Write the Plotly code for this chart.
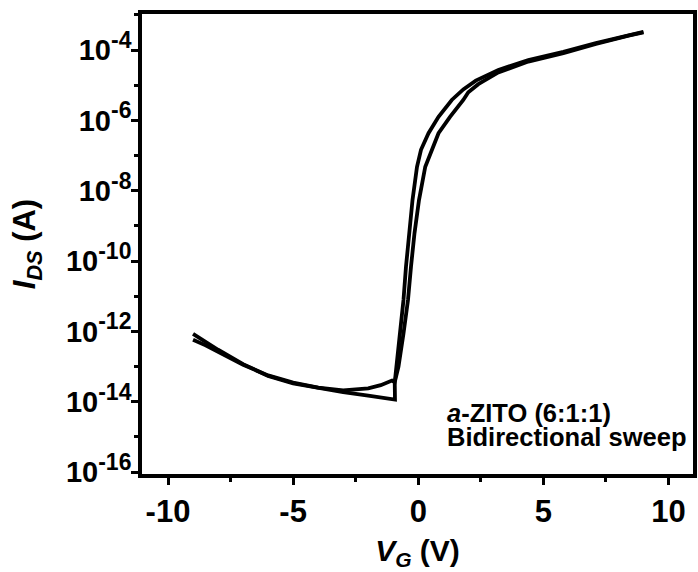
import plotly.graph_objects as go

# Transfer curve of a-ZITO (6:1:1) TFT, bidirectional gate sweep
vg_fwd = [-9.0, -8.5, -8.0, -7.0, -6.0, -5.0, -4.0, -3.0, -2.0, -1.0, -0.93, -0.94,
          -0.87, -0.71, -0.59, -0.49, -0.37, -0.23, -0.05, 0.11, 0.41, 0.81, 1.34,
          1.8, 2.3, 3.2, 4.4, 5.8, 7.1, 8.4, 9.0]
ids_fwd = [8.5e-13, 5.0e-13, 3.0e-13, 1.17e-13, 5.4e-14, 3.3e-14, 2.4e-14, 1.86e-14,
           1.48e-14, 1.2e-14, 1.15e-14, 3.5e-14, 1.0e-13, 8.7e-13, 7.8e-12, 6.9e-11,
           6.2e-10, 5.4e-9, 4.8e-8, 1.45e-7, 4.3e-7, 1.26e-6, 3.8e-6, 7.6e-6, 1.35e-5,
           2.7e-5, 5.2e-5, 8.9e-5, 1.58e-4, 2.7e-4, 3.3e-4]

vg_rev = [9.0, 8.4, 7.1, 5.8, 4.4, 3.2, 2.4, 2.0, 1.80, 1.27, 0.81, 0.54, 0.28, 0.03,
          -0.15, -0.29, -0.41, -0.59, -0.79, -0.94, -1.05, -1.5, -2.0, -3.0, -4.0,
          -5.0, -6.0, -7.0, -8.0, -8.5, -9.0]
ids_rev = [3.16e-4, 2.57e-4, 1.48e-4, 8.1e-5, 4.7e-5, 2.3e-5, 1.07e-5, 6.3e-6, 3.8e-6,
           1.26e-6, 4.3e-7, 1.45e-7, 4.8e-8, 5.4e-9, 6.2e-10, 6.9e-11, 7.8e-12, 8.7e-13,
           1.0e-13, 3.6e-14, 4.0e-14, 2.95e-14, 2.4e-14, 2.1e-14, 2.5e-14, 3.5e-14,
           5.6e-14, 1.12e-13, 2.7e-13, 4.0e-13, 5.8e-13]

y_tickvals = [1e-16, 1e-14, 1e-12, 1e-10, 1e-8, 1e-6, 1e-4]
y_exponents = ["-16", "-14", "-12", "-10", "-8", "-6", "-4"]
y_minor = [1e-15, 1e-13, 1e-11, 1e-9, 1e-7, 1e-5, 1e-3]
x_tickvals = [-10, -5, 0, 5, 10]
x_ticktext = ["-10", "-5", "0", "5", "10"]
x_minor = [-7.5, -2.5, 2.5, 7.5]

FONT = "Liberation Sans, Arial, sans-serif"
y_ticktext = ["10<sup><span style='font-size:23px'>%s</span></sup>" % e
              for e in y_exponents]

fig = go.Figure()
for xs, ys in ((vg_fwd, ids_fwd), (vg_rev, ids_rev)):
    fig.add_trace(go.Scatter(x=xs, y=ys, mode="lines",
                             line=dict(color="black", width=3.8),
                             showlegend=False, hoverinfo="skip"))

fig.update_layout(
    width=698, height=572,
    margin=dict(l=142, r=1, t=14, b=98),
    paper_bgcolor="white", plot_bgcolor="white",
    font=dict(family=FONT, color="black", size=29, weight="bold"),
)

fig.update_xaxes(
    range=[-11.04, 10.98],
    showgrid=False, zeroline=False,
    showline=True, linecolor="black", linewidth=3.5, mirror=True,
    tickmode="array", tickvals=x_tickvals, ticktext=x_ticktext,
    ticks="outside", ticklen=7, tickwidth=3, tickcolor="black",
    tickfont=dict(size=31, family=FONT, weight="bold"),
    minor=dict(tickvals=x_minor, ticks="outside", ticklen=4, tickwidth=3,
               tickcolor="black", showgrid=False),
    title=dict(text="<i>V</i><sub><i>G</i></sub> (V)",
               font=dict(size=30, family=FONT, weight="bold"), standoff=13),
)

fig.update_yaxes(
    type="log", range=[-16.056, -2.976],
    showgrid=False, zeroline=False,
    showline=True, linecolor="black", linewidth=3.5, mirror=True,
    tickmode="array", tickvals=y_tickvals, ticktext=y_ticktext,
    ticks="outside", ticklen=7, tickwidth=3, tickcolor="black",
    ticklabelstandoff=-6,
    tickfont=dict(size=29, family=FONT, weight="bold"),
    minor=dict(tickvals=y_minor, ticks="outside", ticklen=4, tickwidth=3,
               tickcolor="black", showgrid=False),
    title=dict(text="<i>I</i><sub><i>DS</i></sub> (A)",
               font=dict(size=31, family=FONT, weight="bold"), standoff=22),
)

fig.add_annotation(xref="paper", yref="paper", x=0.5495, y=0.1326,
                   xanchor="left", yanchor="middle", showarrow=False,
                   text="<i>a</i>-ZITO (6:1:1)",
                   font=dict(size=25.5, family=FONT, weight="bold", color="black"))
fig.add_annotation(xref="paper", yref="paper", x=0.5495, y=0.0804,
                   xanchor="left", yanchor="middle", showarrow=False,
                   text="Bidirectional sweep",
                   font=dict(size=25.5, family=FONT, weight="bold", color="black"))

fig.write_html("out.html")
